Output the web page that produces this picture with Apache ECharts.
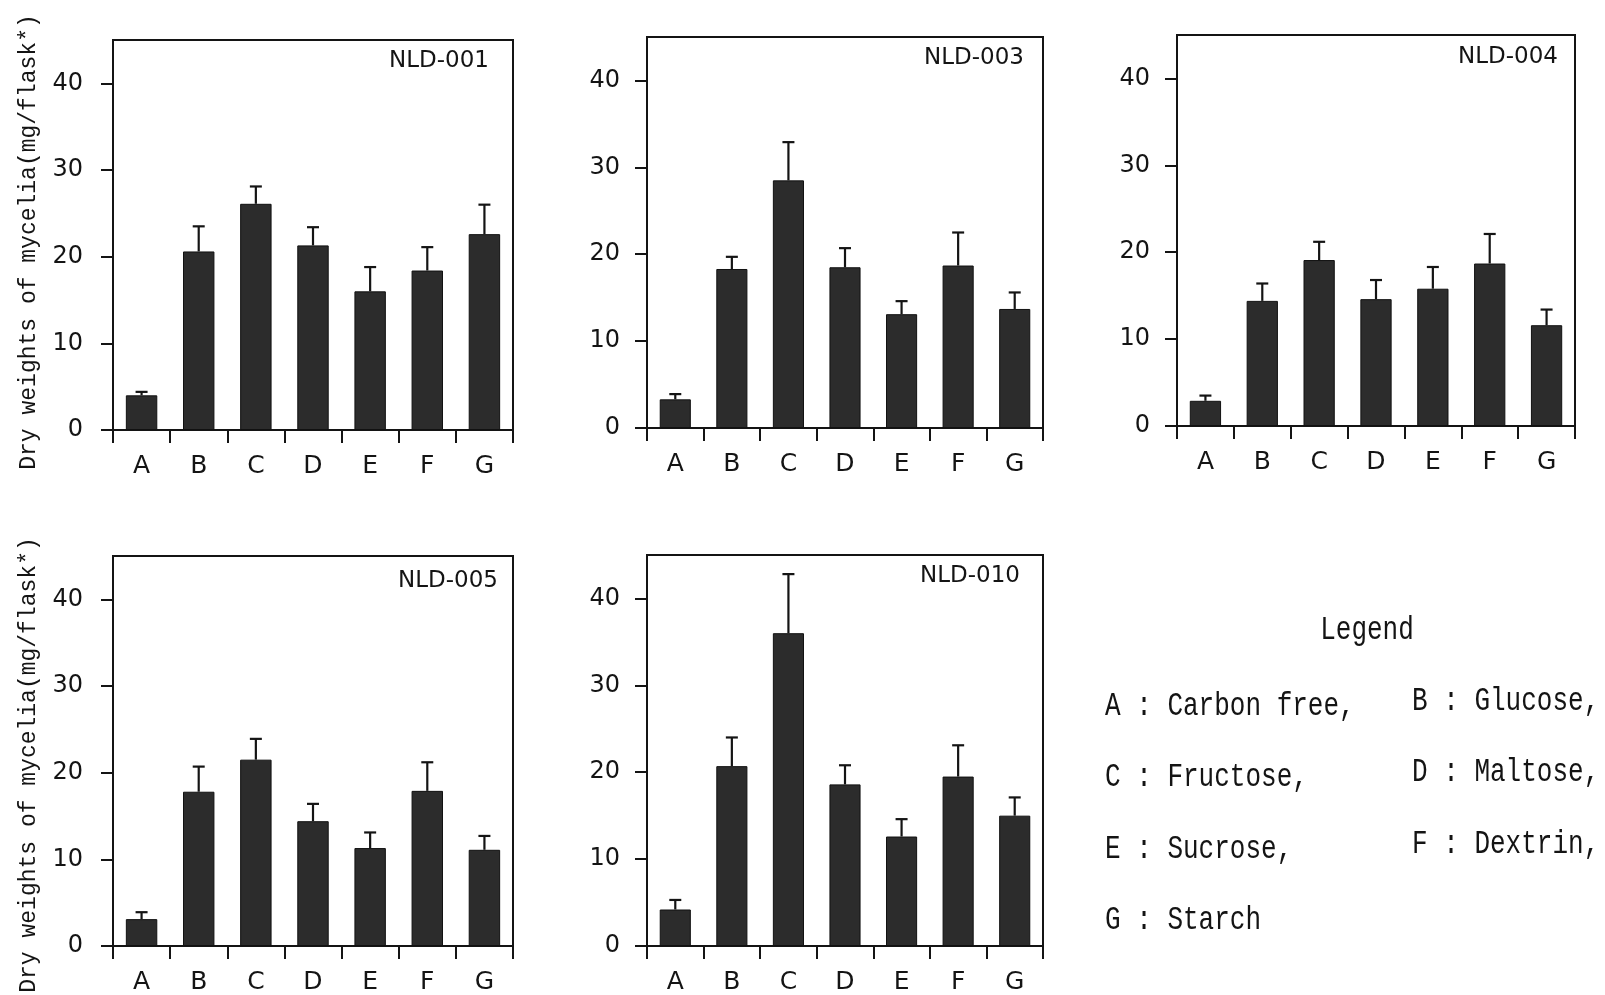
<!DOCTYPE html>
<html>
<head>
<meta charset="utf-8">
<script src="https://cdn.jsdelivr.net/npm/echarts@6/dist/echarts.min.js"></script>
<style>
  html, body { margin: 0; padding: 0; background: #fff; }
  #chart { width: 1605px; height: 995px; }
</style>
</head>
<body>
<div id="chart"></div>
<script>
// Carbon sources on the x axis
const categories = ['A', 'B', 'C', 'D', 'E', 'F', 'G'];

// Strains, one panel each
const strains = ['NLD-001', 'NLD-003', 'NLD-004', 'NLD-005', 'NLD-010'];

// Mean dry weight of mycelia (mg/flask) and upper error (SD) per carbon source
const nld001Mean = [4.0, 20.6, 26.1, 21.3, 16.0, 18.4, 22.6];
const nld001Err  = [0.4, 2.9, 2.0, 2.1, 2.8, 2.7, 3.4];

const nld003Mean = [3.3, 18.3, 28.5, 18.5, 13.1, 18.7, 13.7];
const nld003Err  = [0.6, 1.4, 4.4, 2.2, 1.5, 3.8, 1.9];

const nld004Mean = [2.9, 14.4, 19.1, 14.6, 15.8, 18.7, 11.6];
const nld004Err  = [0.6, 2.0, 2.1, 2.2, 2.5, 3.4, 1.8];

const nld005Mean = [3.1, 17.8, 21.5, 14.4, 11.3, 17.9, 11.1];
const nld005Err  = [0.8, 2.9, 2.4, 2.0, 1.8, 3.3, 1.6];

const nld010Mean = [4.2, 20.7, 36.0, 18.6, 12.6, 19.5, 15.0];
const nld010Err  = [1.1, 3.3, 6.8, 2.2, 2.0, 3.6, 2.1];

const yTicks = [0, 10, 20, 30, 40];
const yTitle = 'Dry weights of mycelia(mg/flask*)';

const legendTitle = 'Legend';
const legendKeys  = ['A', 'B', 'C', 'D', 'E', 'F', 'G'];
const legendNames = ['Carbon free,', 'Glucose,', 'Fructose,', 'Maltose,', 'Sucrose,', 'Dextrin,', 'Starch'];

const means  = [nld001Mean, nld003Mean, nld004Mean, nld005Mean, nld010Mean];
const errors = [nld001Err, nld003Err, nld004Err, nld005Err, nld010Err];

// Panel frames (px)
const panels = [
  { left: 113,  top: 40,  width: 400, height: 390, titleRight: 1116, titleTop: 50,  namePad: 14 },
  { left: 647,  top: 37,  width: 396, height: 391, titleRight: 581,  titleTop: 47 },
  { left: 1177, top: 35,  width: 398, height: 391, titleRight: 47,   titleTop: 46 },
  { left: 113,  top: 556, width: 400, height: 392, titleRight: 1107, titleTop: 570, namePad: 28 },
  { left: 647,  top: 555, width: 396, height: 392, titleRight: 585,  titleTop: 565 }
];

const INK = '#141414';
const SANS = '"DejaVu Sans", sans-serif';
const MONO = '"Liberation Mono", monospace';

const grids = [], xAxes = [], yAxes = [], series = [], titles = [];

panels.forEach((p, k) => {
  grids.push({
    left: p.left, top: p.top, width: p.width, height: p.height,
    show: true, borderColor: INK, borderWidth: 2, backgroundColor: 'transparent'
  });

  xAxes.push({
    gridIndex: k, type: 'category', data: categories, boundaryGap: true,
    axisLine: { show: true, lineStyle: { color: INK, width: 2 } },
    axisTick: { show: true, length: 13, lineStyle: { color: INK, width: 2 } },
    axisLabel: { margin: 24, fontSize: 25, color: INK, fontFamily: SANS },
    splitLine: { show: false }
  });

  const firstCol = (k % 3 === 0);
  yAxes.push({
    gridIndex: k, type: 'value', min: 0, max: 45, interval: 10,
    axisLine: { show: true, lineStyle: { color: INK, width: 2 } },
    axisTick: { show: true, length: 12, customValues: yTicks, lineStyle: { color: INK, width: 2 } },
    axisLabel: { customValues: yTicks, margin: firstCol ? 30 : 27, fontSize: 24, color: INK, fontFamily: SANS },
    splitLine: { show: false },
    name: firstCol ? yTitle : '',
    nameLocation: 'middle',
    nameGap: 73,
    nameTextStyle: {
      fontFamily: MONO, fontSize: 23, color: INK,
      padding: [0, p.namePad || 0, 0, 0]
    }
  });

  titles.push({
    text: strains[k], right: p.titleRight, top: p.titleTop, padding: 0,
    textStyle: { fontFamily: SANS, fontSize: 23, fontWeight: 'normal', color: INK }
  });

  series.push({
    type: 'bar', name: strains[k], xAxisIndex: k, yAxisIndex: k,
    data: means[k], barWidth: '55%',
    itemStyle: { color: '#2c2c2c', borderColor: '#111', borderWidth: 1 },
    silent: true, z: 2
  });

  series.push({
    type: 'custom', name: strains[k] + ' SD', xAxisIndex: k, yAxisIndex: k,
    data: categories.map((c, i) => [i, means[k][i], errors[k][i]]),
    encode: { x: 0, y: 1 },
    silent: true, z: 3,
    renderItem: (params, api) => {
      const i = api.value(0), m = api.value(1), e = api.value(2);
      const base = api.coord([i, m]);
      const top = api.coord([i, m + e]);
      const hw = 6;
      const st = { stroke: INK, lineWidth: 2.2 };
      return {
        type: 'group',
        children: [
          { type: 'line', shape: { x1: base[0], y1: base[1], x2: top[0], y2: top[1] }, style: st },
          { type: 'line', shape: { x1: top[0] - hw, y1: top[1], x2: top[0] + hw, y2: top[1] }, style: st }
        ]
      };
    }
  });
});

// Legend block: key letter and carbon source, two columns
const legendGraphics = [{
  type: 'text', x: 1367, y: 630, scaleY: 1.25,
  style: { text: legendTitle, font: '26px ' + MONO, fill: INK, align: 'center', verticalAlign: 'middle' }
}];
const legendCols = [1105, 1412];
const legendRows = [706, 777, 849, 920];
legendKeys.forEach((key, i) => {
  legendGraphics.push({
    type: 'text',
    x: legendCols[i % 2], y: legendRows[Math.floor(i / 2)] - (i % 2 ? 5 : 0),
    scaleY: 1.25,
    style: { text: key + ' : ' + legendNames[i], font: '26px ' + MONO, fill: INK, align: 'left', verticalAlign: 'middle' }
  });
});

const chart = echarts.init(document.getElementById('chart'), null, { renderer: 'canvas' });
chart.setOption({
  backgroundColor: '#ffffff',
  animation: false,
  title: titles,
  grid: grids,
  xAxis: xAxes,
  yAxis: yAxes,
  series: series,
  graphic: legendGraphics
});
</script>
</body>
</html>
